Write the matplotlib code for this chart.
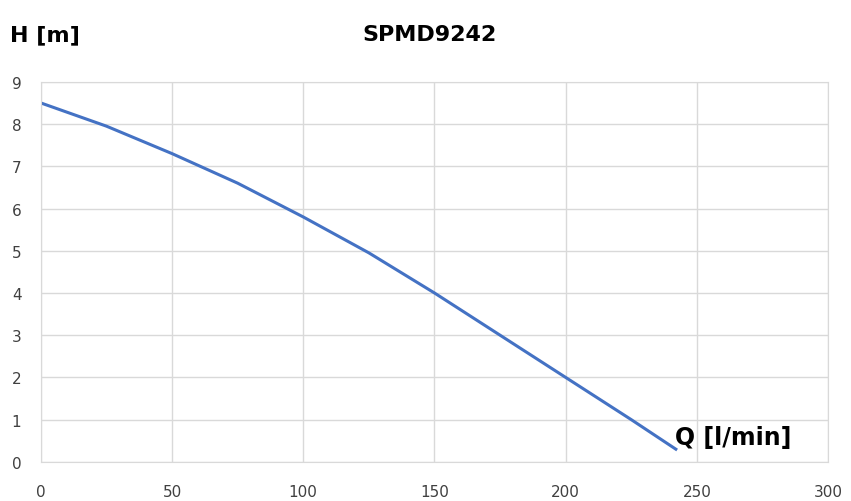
import matplotlib
matplotlib.use("Agg")
import matplotlib.pyplot as plt

# pump curve
flow = [0, 25, 50, 75, 100, 125, 150, 175, 200, 225, 242]
head = [8.5, 7.95, 7.3, 6.6, 5.8, 4.95, 4.0, 3.0, 2.0, 1.0, 0.3]
x_ticks = [0, 50, 100, 150, 200, 250, 300]
y_ticks = list(range(10))

fig = plt.figure(figsize=(8.51, 5.02), dpi=100)
ax = fig.add_axes([0.048, 0.078, 0.925, 0.757])

ax.plot(flow, head, color='#4472C4', lw=2.2)
ax.set_xlim(0, 300)
ax.set_ylim(0, 9)
ax.set_xticks(x_ticks)
ax.set_yticks(y_ticks)
ax.grid(True, color='#d9d9d9', lw=1)
ax.set_axisbelow(True)
for s in ax.spines.values():
    s.set_color('#d9d9d9')
ax.tick_params(length=0, labelsize=11, colors='#404040')
ax.tick_params(axis='x', pad=16)
ax.tick_params(axis='y', pad=14)

fig.text(0.012, 0.93, 'H [m]', fontsize=16, fontweight='bold', va='center')
fig.text(0.505, 0.93, 'SPMD9242', fontsize=16, fontweight='bold', ha='center', va='center')
ax.text(241.5, 0.6, 'Q [l/min]', fontsize=17, fontweight='bold', va='center')

fig.savefig('out.png', dpi=100)
